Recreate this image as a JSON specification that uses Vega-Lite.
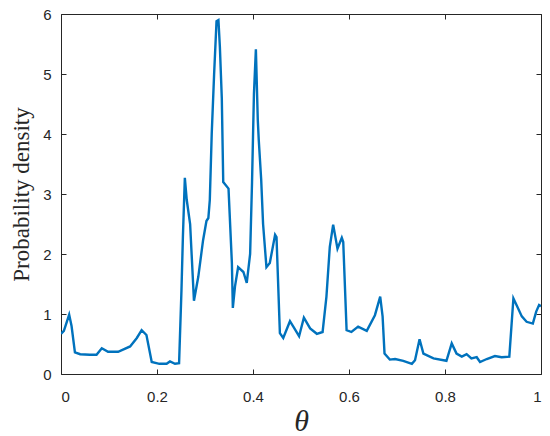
{
  "$schema": "https://vega.github.io/schema/vega-lite/v6.json",
  "width": 480,
  "height": 360,
  "autosize": {"type": "none"},
  "padding": {"left": 61, "top": 14, "right": 9, "bottom": 62},
  "background": "white",
  "config": {
    "view": {"stroke": null},
    "axis": {
      "grid": false,
      "domainColor": "#262626",
      "domainWidth": 1,
      "tickColor": "#262626",
      "tickSize": -5,
      "labelColor": "#262626",
      "labelFont": "Liberation Sans",
      "labelFontSize": 15,
      "titleColor": "#262626"
    }
  },
  "data": {"values": [
    {"t": 0.0, "p": 0.67}, {"t": 0.006, "p": 0.72}, {"t": 0.017, "p": 0.99}, {"t": 0.022, "p": 0.8}, {"t": 0.029, "p": 0.36},
    {"t": 0.04, "p": 0.33}, {"t": 0.06, "p": 0.32}, {"t": 0.074, "p": 0.32}, {"t": 0.085, "p": 0.43}, {"t": 0.098, "p": 0.37},
    {"t": 0.119, "p": 0.37}, {"t": 0.144, "p": 0.46}, {"t": 0.158, "p": 0.6}, {"t": 0.168, "p": 0.73}, {"t": 0.178, "p": 0.65},
    {"t": 0.189, "p": 0.2}, {"t": 0.205, "p": 0.17}, {"t": 0.22, "p": 0.17}, {"t": 0.227, "p": 0.21}, {"t": 0.2375, "p": 0.17},
    {"t": 0.246, "p": 0.18}, {"t": 0.251, "p": 1.4}, {"t": 0.254, "p": 2.3}, {"t": 0.258, "p": 3.27}, {"t": 0.262, "p": 2.9},
    {"t": 0.269, "p": 2.5}, {"t": 0.277, "p": 1.22}, {"t": 0.286, "p": 1.62}, {"t": 0.296, "p": 2.23}, {"t": 0.303, "p": 2.55},
    {"t": 0.307, "p": 2.6}, {"t": 0.31, "p": 2.9}, {"t": 0.314, "p": 4.0}, {"t": 0.319, "p": 5.0}, {"t": 0.324, "p": 5.88},
    {"t": 0.328, "p": 5.9}, {"t": 0.331, "p": 5.45}, {"t": 0.335, "p": 4.6}, {"t": 0.338, "p": 3.2}, {"t": 0.349, "p": 3.09},
    {"t": 0.356, "p": 1.85}, {"t": 0.358, "p": 1.1}, {"t": 0.3625, "p": 1.46}, {"t": 0.369, "p": 1.78}, {"t": 0.38, "p": 1.7},
    {"t": 0.387, "p": 1.52}, {"t": 0.394, "p": 2.0}, {"t": 0.398, "p": 3.2}, {"t": 0.4, "p": 3.95}, {"t": 0.402, "p": 4.68},
    {"t": 0.406, "p": 5.41}, {"t": 0.41, "p": 4.23}, {"t": 0.412, "p": 3.9}, {"t": 0.417, "p": 3.25}, {"t": 0.421, "p": 2.5},
    {"t": 0.428, "p": 1.78}, {"t": 0.435, "p": 1.85}, {"t": 0.446, "p": 2.32}, {"t": 0.449, "p": 2.28}, {"t": 0.456, "p": 0.68},
    {"t": 0.463, "p": 0.6}, {"t": 0.477, "p": 0.88}, {"t": 0.484, "p": 0.79}, {"t": 0.496, "p": 0.63}, {"t": 0.506, "p": 0.94},
    {"t": 0.519, "p": 0.76}, {"t": 0.533, "p": 0.67}, {"t": 0.545, "p": 0.7}, {"t": 0.553, "p": 1.29}, {"t": 0.56, "p": 2.12},
    {"t": 0.567, "p": 2.49}, {"t": 0.576, "p": 2.09}, {"t": 0.585, "p": 2.27}, {"t": 0.588, "p": 2.2}, {"t": 0.595, "p": 0.73},
    {"t": 0.605, "p": 0.7}, {"t": 0.619, "p": 0.79}, {"t": 0.637, "p": 0.72}, {"t": 0.654, "p": 0.98}, {"t": 0.665, "p": 1.29},
    {"t": 0.67, "p": 0.96}, {"t": 0.674, "p": 0.34}, {"t": 0.685, "p": 0.24}, {"t": 0.696, "p": 0.25}, {"t": 0.713, "p": 0.22},
    {"t": 0.731, "p": 0.17}, {"t": 0.7375, "p": 0.23}, {"t": 0.747, "p": 0.58}, {"t": 0.755, "p": 0.34}, {"t": 0.776, "p": 0.26},
    {"t": 0.803, "p": 0.22}, {"t": 0.814, "p": 0.51}, {"t": 0.824, "p": 0.34}, {"t": 0.835, "p": 0.29}, {"t": 0.845, "p": 0.33},
    {"t": 0.855, "p": 0.26}, {"t": 0.866, "p": 0.28}, {"t": 0.873, "p": 0.2}, {"t": 0.887, "p": 0.25}, {"t": 0.904, "p": 0.3},
    {"t": 0.918, "p": 0.28}, {"t": 0.934, "p": 0.29}, {"t": 0.9425, "p": 1.26}, {"t": 0.949, "p": 1.15}, {"t": 0.96, "p": 0.96},
    {"t": 0.97, "p": 0.87}, {"t": 0.983, "p": 0.84}, {"t": 0.99, "p": 1.04}, {"t": 0.996, "p": 1.15}, {"t": 1.0, "p": 1.13}
  ]},
  "layer": [
    {
      "mark": {"type": "line", "color": "#0072BD", "strokeWidth": 2.4, "clip": true},
      "encoding": {
        "x": {"field": "t", "type": "quantitative", "scale": {"domain": [0, 1], "nice": false},
          "axis": {"orient": "bottom", "values": [0, 0.2, 0.4, 0.6, 0.8, 1], "labelPadding": 20, "labelExpr": "datum.value == 0 ? '0' : datum.value == 1 ? '1' : format(datum.value, '.1f')",
            "title": "θ", "titleFont": "Liberation Serif", "titleFontStyle": "italic", "titleFontWeight": "normal", "titleFontSize": 30, "titlePadding": 2}},
        "y": {"field": "p", "type": "quantitative", "scale": {"domain": [0, 6], "nice": false},
          "axis": {"orient": "left", "values": [0, 1, 2, 3, 4, 5, 6], "labelPadding": 15,
            "title": "Probability density", "titleFont": "Liberation Serif", "titleFontWeight": "normal", "titleFontSize": 23, "titlePadding": 9}}
      }
    },
    {
      "mark": {"type": "line", "opacity": 0},
      "encoding": {
        "x": {"field": "t", "type": "quantitative", "scale": {"domain": [0, 1], "nice": false},
          "axis": {"orient": "top", "values": [0, 0.2, 0.4, 0.6, 0.8, 1], "labels": false, "title": null}},
        "y": {"field": "p", "type": "quantitative", "scale": {"domain": [0, 6], "nice": false},
          "axis": {"orient": "right", "values": [0, 1, 2, 3, 4, 5, 6], "labels": false, "title": null}}
      }
    }
  ],
  "resolve": {"axis": {"x": "independent", "y": "independent"}}
}
